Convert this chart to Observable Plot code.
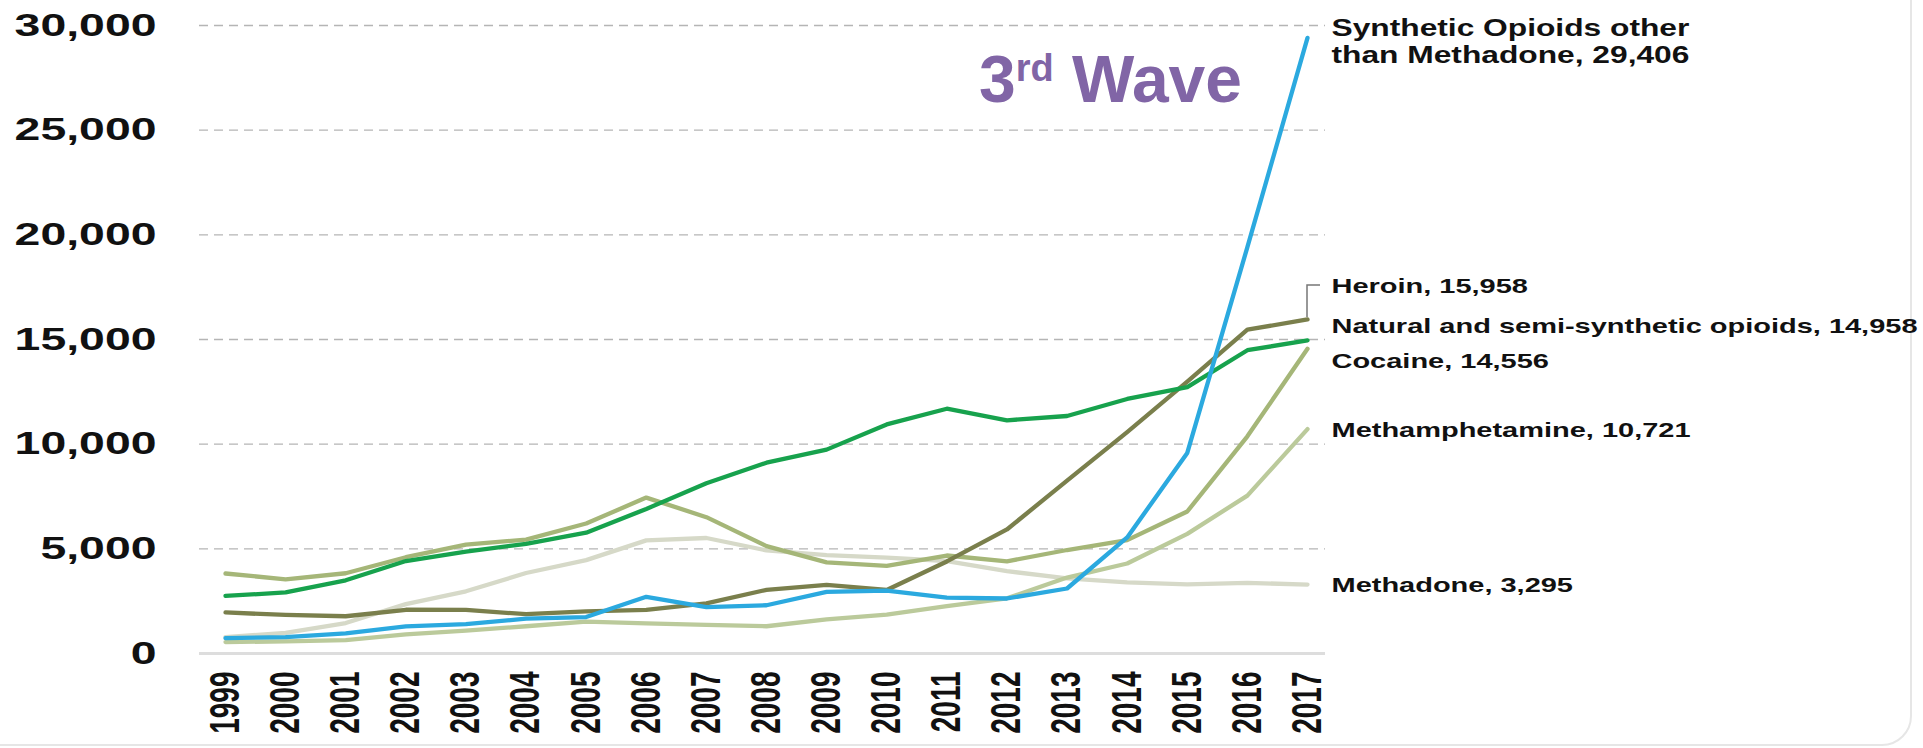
<!DOCTYPE html>
<html>
<head>
<meta charset="utf-8">
<script src="https://cdn.jsdelivr.net/npm/d3@7"></script>
<script src="https://cdn.jsdelivr.net/npm/@observablehq/plot@0.6"></script>
<style>
  body { margin: 0; background: #fff; }
  #wrap { position: relative; width: 1923px; height: 748px; overflow: hidden; font-family: "Liberation Sans", Arial, sans-serif; }
  #frame { position: absolute; left: -30px; top: -40px; width: 1942px; height: 786px; border: 2px solid #e6e6e6; border-radius: 30px; box-sizing: border-box; pointer-events: none; }
  #wave { position: absolute; left: 979px; top: 46px; font-size: 66px; line-height: 66px; font-weight: bold; color: #8165A6; white-space: nowrap; }
  #wave .sup { font-size: 38px; line-height: 0; vertical-align: 21px; }
  #chart { position: absolute; left: 0; top: 0; }
</style>
</head>
<body>
<div id="wrap">
  <div id="frame"></div>
  <div id="chart"></div>
  <div id="wave">3<span class="sup">rd</span> Wave</div>
</div>
<script>
// ---- data ----
const years = [1999, 2000, 2001, 2002, 2003, 2004, 2005, 2006, 2007, 2008, 2009, 2010, 2011, 2012, 2013, 2014, 2015, 2016, 2017];
const yTicks = [0, 5000, 10000, 15000, 20000, 25000, 30000];

const seriesNames = [
  "Methadone",
  "Methamphetamine",
  "Cocaine",
  "Heroin",
  "Natural and semi-synthetic opioids",
  "Synthetic Opioids other\nthan Methadone"
];
const methadone = [784, 988, 1456, 2358, 2972, 3845, 4460, 5406, 5518, 4924, 4696, 4577, 4418, 3932, 3591, 3400, 3301, 3373, 3295];
const methamphetamine = [547, 578, 637, 914, 1097, 1301, 1519, 1439, 1365, 1302, 1632, 1854, 2266, 2635, 3627, 4298, 5716, 7542, 10721];
const cocaine = [3822, 3544, 3833, 4599, 5199, 5443, 6208, 7448, 6512, 5129, 4350, 4183, 4681, 4404, 4944, 5415, 6784, 10375, 14556];
const heroin = [1960, 1842, 1779, 2089, 2080, 1878, 2009, 2088, 2399, 3041, 3278, 3036, 4397, 5925, 8257, 10574, 12989, 15469, 15958];
const natural = [2749, 2917, 3497, 4416, 4867, 5242, 5774, 6906, 8129, 9116, 9739, 10943, 11693, 11140, 11346, 12159, 12727, 14487, 14958];
const synthetic = [730, 782, 957, 1295, 1400, 1664, 1742, 2707, 2213, 2306, 2946, 3007, 2666, 2628, 3105, 5544, 9580, 19413, 29406];

const seriesValues = [methadone, methamphetamine, cocaine, heroin, natural, synthetic];

// ---- styles ----
const seriesColors = ["#D6D9C8", "#BBCA9B", "#A5B678", "#7A7F4C", "#17A24D", "#2BA9DF"];
const labelDy = [0, 0, 11, -34, -15, 3];
const labelSize = [21, 21, 21, 21, 21, 23];
const STRETCH = 1.38;
const Y_STRETCH = 1.45;
const X_STRETCH = 1.5;

// ---- build tables ----
const rows = [];
seriesNames.forEach((name, s) => {
  years.forEach((yr, i) => rows.push({series: name, year: yr, value: seriesValues[s][i]}));
});
const fmt = d3.format(",");
const ends = seriesNames.map((name, s) => ({
  series: name,
  year: years[years.length - 1],
  value: seriesValues[s][years.length - 1],
  label: name + ", " + fmt(seriesValues[s][years.length - 1])
}));

const FONT = '"Liberation Sans", Arial, sans-serif';

const chart = Plot.plot({
  width: 1923,
  height: 748,
  marginLeft: 199,
  marginRight: 598,
  marginTop: 25,
  marginBottom: 95,
  style: {fontFamily: FONT, background: "transparent", overflow: "visible"},
  x: {domain: [years[0], years[years.length - 1]], insetLeft: 26, insetRight: 18, label: null},
  y: {domain: [0, 30000], label: null},
  color: {domain: seriesNames, range: seriesColors},
  marks: [
    Plot.gridY(yTicks.filter(d => d > 0), {stroke: "#b5b5b5", strokeOpacity: 1, strokeWidth: 1.3, strokeDasharray: "9,6"}),
    Plot.ruleY([0], {stroke: "#dddddd", strokeWidth: 3}),
    Plot.axisY(yTicks, {tickSize: 0, tickPadding: 43, tickFormat: fmt, fontSize: 32, fontWeight: "bold", fill: "#111", label: null}),
    Plot.axisX(years, {tickSize: 0, tickPadding: 18, tickRotate: -90, tickFormat: d => String(d), fontSize: 28, fontWeight: "bold", fill: "#111", label: null}),
    Plot.line(rows, {x: "year", y: "value", z: "series", stroke: "series", strokeWidth: 4.3, strokeLinejoin: "round", strokeLinecap: "round"}),
    ...ends.map((e, s) => Plot.text([e], {
      x: "year", y: "value", text: "label",
      dx: 24, dy: labelDy[s],
      textAnchor: "start", lineAnchor: "middle", lineHeight: 1.17,
      fontSize: labelSize[s], fontWeight: "bold", fill: "#111"
    }))
  ]
});

document.getElementById("chart").appendChild(chart);

// horizontal stretch of texts to match the widened lettering of the reference
chart.querySelectorAll('g[aria-label="text"] text').forEach(t => {
  t.setAttribute("transform", (t.getAttribute("transform") || "") + ` scale(${STRETCH},1)`);
});
chart.querySelectorAll('g[aria-label="y-axis tick label"] text').forEach(t => {
  t.setAttribute("transform", (t.getAttribute("transform") || "") + ` scale(${Y_STRETCH},1)`);
});
chart.querySelectorAll('g[aria-label="x-axis tick label"] text').forEach(t => {
  t.setAttribute("transform", (t.getAttribute("transform") || "") + ` scale(1,${X_STRETCH})`);
});

// leader bracket for the Heroin label
const xs = chart.scale("x"), ys = chart.scale("y");
const hi = seriesNames.indexOf("Heroin");
const hx = xs.apply(years[years.length - 1]);
const hy = ys.apply(seriesValues[hi][years.length - 1]);
d3.select(chart).append("path")
  .attr("d", `M${hx},${hy - 2}V${hy + labelDy[hi]}H${hx + 13}`)
  .attr("fill", "none")
  .attr("stroke", "#777")
  .attr("stroke-width", 1.5);
</script>
</body>
</html>
